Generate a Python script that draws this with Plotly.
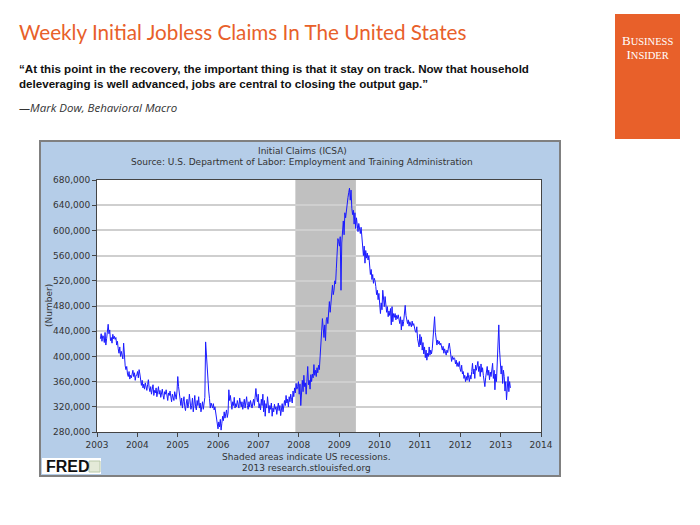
import pandas as pd
import plotly.graph_objects as go

# ---------------- data (weekly initial claims) ----------------
claims_2003 = [428, 436, 424, 433,
               432, 422, 438, 418, 428, 440, 451,
               436, 442, 425, 430, 421, 435, 428, 432, 427, 430,
               418, 424, 412, 405, 415, 400, 408, 402, 396, 421,
               392, 385, 379, 384, 372, 368, 376, 364, 370, 366, 372, 378, 368, 374, 362, 370]
claims_2004 = [370, 376, 366, 379, 372, 360, 354, 362, 350, 356, 348, 358, 352, 346, 355, 363,
               350, 344, 352, 340, 348, 355, 338, 346, 342, 350, 336, 344, 352, 340, 346, 335,
               342, 348, 338, 332, 344, 340, 347, 336, 330, 342, 338, 345, 334, 328, 340, 336,
               330, 344, 338, 332]
claims_2005 = [345, 368, 352, 338, 330, 322, 334, 318, 328, 336, 320, 314, 326, 332, 318, 324,
               340, 328, 316, 322, 334, 312, 326, 338, 320, 315, 330, 322, 336, 318, 326, 312,
               320, 328, 316, 324, 335, 423, 398, 378, 360, 345, 333, 318, 326, 322, 318, 325,
               315, 320, 310, 300]
claims_2006 = [292, 285, 296, 288, 300, 283, 294, 305, 298, 312, 302, 308, 315, 303, 310, 347,
               330, 338, 320, 316, 328, 322, 335, 318, 325, 320, 330, 324, 318, 334, 326, 320,
               328, 316, 324, 332, 318, 326, 336, 322, 316, 328, 320, 330, 324, 318, 326, 332,
               322, 338, 349, 335]
claims_2007 = [328, 340, 318, 325, 315, 332, 322, 340, 312, 330, 305, 325, 318, 336, 320, 310,
               322, 316, 326, 305, 318, 312, 324, 316, 320, 308, 318, 326, 314, 322, 306, 318,
               325, 312, 320, 330, 322, 338, 326, 332, 320, 336, 328, 340, 332, 326, 345, 336,
               350, 342, 357, 348]
claims_2008 = [352, 360, 340, 356, 322,
               348, 362, 344, 370, 352, 358, 340, 366, 384, 355, 362, 348, 371, 360,
               372, 366, 387, 370, 378, 368, 382, 374, 386, 379,
               397, 408, 430, 460,
               445, 430, 450, 425, 458, 462, 452,
               475, 487, 470, 482,
               495, 513, 498, 505, 520, 515, 540, 560]
claims_2009 = [587, 582, 575, 590, 505, 580,
               600, 615, 593, 628, 620, 635,
               645, 652, 660, 667, 648, 664,
               635, 625, 632, 610, 628, 603, 620, 612,
               598, 611, 600, 595, 605, 590,
               585, 560, 575, 548, 568,
               556, 564, 553, 560,
               545, 530, 538, 522, 530, 516, 524, 520,
               511, 498, 505]
claims_2010 = [490, 500, 478, 468, 485, 474,
               505, 488, 479, 495, 482,
               470, 479, 463, 472, 465, 476,
               450, 479, 455, 468,
               462, 468, 458, 465, 460, 466, 459,
               452, 463, 442, 458, 448, 455,
               470, 481, 465, 460, 452,
               458, 448, 455, 450, 447, 456, 449, 452, 445, 440,
               438, 447, 428]
claims_2011 = [420, 415, 435, 418,
               431, 410, 422, 404, 415, 398, 410, 394, 405, 400,
               415, 402, 410, 404, 412,
               428, 445, 463, 438,
               423, 418, 426, 420, 424, 418, 421, 416,
               410, 416, 405, 412, 408, 402, 410, 406,
               415, 421, 412, 400,
               392, 400, 395, 398,
               397, 388, 394, 384, 390]
claims_2012 = [384, 392, 380, 376, 386,
               372, 376, 365, 370, 360, 368, 362, 374, 366, 360, 370, 364, 376,
               389, 372, 380, 365, 386, 378,
               385, 392, 376, 384, 368, 388, 375, 382, 370,
               360, 352, 366, 372,
               384, 370, 378, 363, 375, 368, 380,
               389, 365, 378, 347, 372, 360, 385,
               420]
claims_2013 = [450, 410, 395, 372, 385, 357, 378, 368, 345, 360, 331, 350, 368, 344, 360, 350]

claims_thousands = (claims_2003 + claims_2004 + claims_2005 + claims_2006 + claims_2007 +
                    claims_2008 + claims_2009 + claims_2010 + claims_2011 + claims_2012 +
                    claims_2013)
claims = [v * 1000 for v in claims_thousands]
weeks = pd.date_range(start="2003-02-01", periods=len(claims), freq="W-SAT")

recession_start = "2007-12-01"
recession_end = "2009-06-01"

y_ticks = list(range(280000, 680001, 40000))
x_range = ["2003-01-01", "2014-01-01"]

title_text = "Weekly Initial Jobless Claims In The United States"
quote_text = ("<b>“At this point in the recovery, the important thing is that it stay on track. Now that household<br>"
              "deleveraging is well advanced, jobs are central to closing the output gap.”</b>")
attrib_text = "—Mark Dow, Behavioral Macro"
chart_title = "Initial Claims (ICSA)"
chart_source = "Source: U.S. Department of Labor: Employment and Training Administration"
foot1 = "Shaded areas indicate US recessions."
foot2 = "2013 research.stlouisfed.org"

# ---------------- layout helpers (screen pixel -> paper) ----------------
OFF = 8  # page body margin
L, R, T, B = 97, 541, 180, 432
W, H = R - L, B - T


def px(x):
    return (x - L) / W


def py(y):
    return (B - y) / H


ORANGE = "#e8602a"
PANEL = "#b5cde8"
FONT = "DejaVu Sans"

fig = go.Figure()
fig.add_trace(go.Scatter(x=weeks, y=claims, mode="lines",
                         line=dict(color="#1a1aff", width=1), hoverinfo="x+y",
                         showlegend=False))

shapes = [
    dict(type="rect", xref="paper", yref="paper", x0=px(40), x1=px(560), y0=py(476), y1=py(141),
         fillcolor=PANEL, line=dict(color="#808080", width=2), layer="below"),
    dict(type="rect", xref="paper", yref="paper", x0=0, x1=1, y0=0, y1=1,
         fillcolor="white", line=dict(width=0), layer="below"),
    dict(type="rect", xref="x", yref="paper", x0=recession_start, x1=recession_end, y0=0, y1=1,
         fillcolor="#c0c0c0", line=dict(width=0), layer="below"),
    dict(type="rect", xref="paper", yref="paper", x0=px(42), x1=px(101), y0=py(474), y1=py(458),
         fillcolor="white", line=dict(width=0), layer="above"),
    dict(type="rect", xref="paper", yref="paper", x0=px(89), x1=px(100), y0=py(472), y1=py(461),
         fillcolor="#e4ead8", line=dict(color="#b8c8a8", width=1), layer="above"),
    dict(type="rect", xref="paper", yref="paper", x0=px(615), x1=px(680), y0=py(139), y1=py(14),
         fillcolor=ORANGE, line=dict(width=0), layer="above"),
]

annotations = [
    dict(text=title_text, x=px(17), y=py(32), xanchor="left", yanchor="middle",
         font=dict(family="Lato", size=20.7, color=ORANGE)),
    dict(text=quote_text, x=px(17), y=py(76), xanchor="left", yanchor="middle", align="left",
         font=dict(family="Liberation Sans", size=11.6, color="#111")),
    dict(text="<i>" + attrib_text + "</i>", x=px(17), y=py(108), xanchor="left", yanchor="middle",
         font=dict(family="Open Sans", size=11.5, color="#333")),
    dict(text="<span style='font-size:13px'>B</span>USINESS<br><span style='font-size:13px'>I</span>NSIDER",
         x=px(647.5), y=py(47), xanchor="center", yanchor="middle", align="center",
         font=dict(family="Liberation Serif", size=10.5, color="white")),
    dict(text=chart_title, x=px(302), y=py(151), xanchor="center", yanchor="middle",
         font=dict(family=FONT, size=9, color="#333")),
    dict(text=chart_source, x=px(302), y=py(161.5), xanchor="center", yanchor="middle",
         font=dict(family=FONT, size=9, color="#333")),
    dict(text=foot1, x=px(306), y=py(457), xanchor="center", yanchor="middle",
         font=dict(family=FONT, size=9, color="#333")),
    dict(text=foot2, x=px(306), y=py(467.5), xanchor="center", yanchor="middle",
         font=dict(family=FONT, size=9, color="#333")),
    dict(text="<b>FRED</b>", x=px(44), y=py(466.5), xanchor="left", yanchor="middle",
         font=dict(family="Liberation Sans", size=16, color="#111")),
    dict(text="(Number)", x=px(49), y=py(306), xanchor="center", yanchor="middle", textangle=-90,
         font=dict(family=FONT, size=9, color="#333")),
]
for a in annotations:
    a.update(xref="paper", yref="paper", showarrow=False)

fig.update_layout(
    width=700 - OFF, height=525 - OFF,
    margin=dict(l=L - OFF, r=700 - R, t=T - OFF, b=525 - B, pad=0),
    paper_bgcolor="white", plot_bgcolor="white",
    shapes=shapes, annotations=annotations, showlegend=False,
    xaxis=dict(type="date", range=x_range, dtick="M12", tickformat="%Y", showgrid=False,
               ticks="outside", ticklen=4, tickcolor="#444", showline=True, mirror=True,
               linecolor="#444", linewidth=1, tickfont=dict(family=FONT, size=9, color="#333")),
    yaxis=dict(range=[y_ticks[0], y_ticks[-1]], tickvals=y_ticks, tickformat=",",
               showgrid=True, gridcolor="#cfcfcf", gridwidth=1.5, ticks="outside", ticklen=4,
               tickcolor="#444", showline=True, mirror=True, linecolor="#444", linewidth=1,
               zeroline=False, tickfont=dict(family=FONT, size=9, color="#333")),
)

fig.write_html("out.html")
